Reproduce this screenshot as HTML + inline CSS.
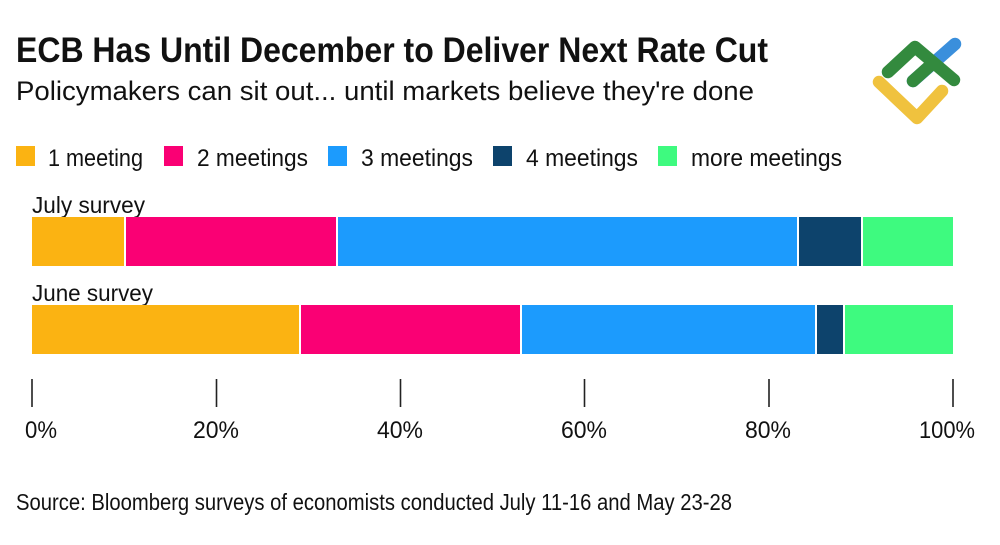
<!DOCTYPE html>
<html>
<head>
<meta charset="utf-8">
<style>
  html,body{margin:0;padding:0;background:#fff;}
  svg{display:block;}
  text{font-family:"Liberation Sans",Arial,sans-serif;fill:#111;}
</style>
</head>
<body>
<svg width="1000" height="545" viewBox="0 0 1000 545" xmlns="http://www.w3.org/2000/svg">
  <rect width="1000" height="545" fill="#fff"/>

  <!-- Title -->
  <text x="16" y="62" font-size="35" font-weight="bold" textLength="752" lengthAdjust="spacingAndGlyphs">ECB Has Until December to Deliver Next Rate Cut</text>
  <text x="16" y="100" font-size="27" textLength="738" lengthAdjust="spacingAndGlyphs">Policymakers can sit out... until markets believe they're done</text>

  <!-- Logo -->
  <g fill="none" stroke-linecap="round" stroke-linejoin="round" stroke-width="12.5">
    <line x1="913" y1="81" x2="955" y2="44" stroke="#3a8fdc"/>
    <polyline points="879,82 917,118 942,91" stroke="#f0c23e"/>
    <polyline points="888,72 915,47 954,80" stroke="#338a3e"/>
    <line x1="913" y1="81" x2="933" y2="63" stroke="#338a3e"/>
  </g>

  <!-- Legend -->
  <rect x="16" y="146" width="19" height="20" fill="#fbb312"/>
  <text x="48" y="166" font-size="24" textLength="95" lengthAdjust="spacingAndGlyphs">1 meeting</text>
  <rect x="164" y="146" width="19" height="20" fill="#fa0074"/>
  <text x="197" y="166" font-size="24" textLength="111" lengthAdjust="spacingAndGlyphs">2 meetings</text>
  <rect x="328" y="146" width="19" height="20" fill="#1c9bfd"/>
  <text x="361" y="166" font-size="24" textLength="112" lengthAdjust="spacingAndGlyphs">3 meetings</text>
  <rect x="493" y="146" width="19" height="20" fill="#0d436c"/>
  <text x="526" y="166" font-size="24" textLength="112" lengthAdjust="spacingAndGlyphs">4 meetings</text>
  <rect x="658" y="146" width="19" height="20" fill="#3efa7f"/>
  <text x="691" y="166" font-size="24" textLength="151" lengthAdjust="spacingAndGlyphs">more meetings</text>

  <!-- July survey -->
  <text x="32" y="213" font-size="23" textLength="113" lengthAdjust="spacingAndGlyphs">July survey</text>
  <rect x="32" y="217" width="92" height="49" fill="#fbb312"/>
  <rect x="126" y="217" width="210" height="49" fill="#fa0074"/>
  <rect x="338" y="217" width="459" height="49" fill="#1c9bfd"/>
  <rect x="799" y="217" width="62" height="49" fill="#0d436c"/>
  <rect x="863" y="217" width="90" height="49" fill="#3efa7f"/>

  <!-- June survey -->
  <text x="32" y="301" font-size="23" textLength="121" lengthAdjust="spacingAndGlyphs">June survey</text>
  <rect x="32" y="305" width="267" height="49" fill="#fbb312"/>
  <rect x="301" y="305" width="219" height="49" fill="#fa0074"/>
  <rect x="522" y="305" width="293" height="49" fill="#1c9bfd"/>
  <rect x="817" y="305" width="26" height="49" fill="#0d436c"/>
  <rect x="845" y="305" width="108" height="49" fill="#3efa7f"/>

  <!-- Ticks -->
  <g stroke="#222" stroke-width="1.6">
    <line x1="32" y1="379" x2="32" y2="407"/>
    <line x1="216.5" y1="379" x2="216.5" y2="407"/>
    <line x1="400.5" y1="379" x2="400.5" y2="407"/>
    <line x1="584.5" y1="379" x2="584.5" y2="407"/>
    <line x1="769" y1="379" x2="769" y2="407"/>
    <line x1="953" y1="379" x2="953" y2="407"/>
  </g>
  <text x="25" y="438" font-size="24" textLength="32" lengthAdjust="spacingAndGlyphs">0%</text>
  <text x="193" y="438" font-size="24" textLength="46" lengthAdjust="spacingAndGlyphs">20%</text>
  <text x="377" y="438" font-size="24" textLength="46" lengthAdjust="spacingAndGlyphs">40%</text>
  <text x="561" y="438" font-size="24" textLength="46" lengthAdjust="spacingAndGlyphs">60%</text>
  <text x="745" y="438" font-size="24" textLength="46" lengthAdjust="spacingAndGlyphs">80%</text>
  <text x="919" y="438" font-size="24" textLength="56" lengthAdjust="spacingAndGlyphs">100%</text>

  <!-- Source -->
  <text x="16" y="510" font-size="23" textLength="716" lengthAdjust="spacingAndGlyphs">Source: Bloomberg surveys of economists conducted July 11-16 and May 23-28</text>
</svg>
</body>
</html>
